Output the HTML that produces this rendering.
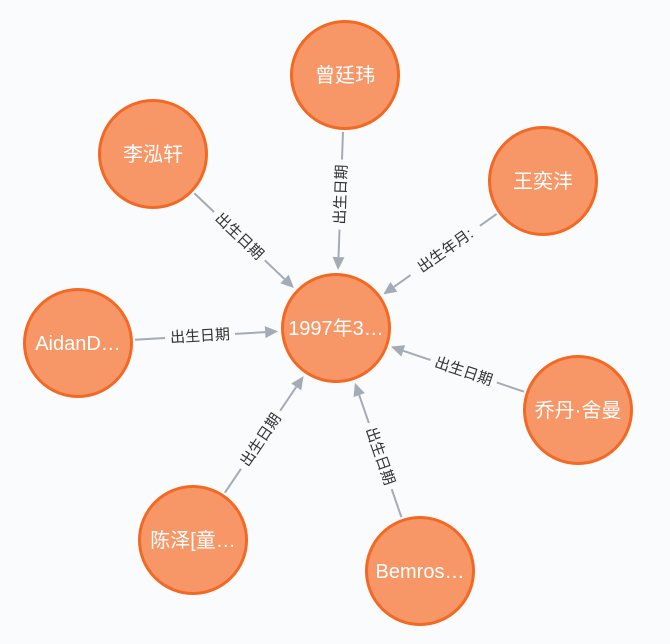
<!DOCTYPE html>
<html><head><meta charset="utf-8"><style>
html,body{margin:0;padding:0;background:#fafbfc;}
svg{display:block;font-family:"Liberation Sans","Noto Sans CJK SC",sans-serif;}
</style></head><body>
<svg id="s" width="670" height="644" xmlns="http://www.w3.org/2000/svg"></svg>
<script>
var nodes={c:[336,328,'1997年3…'],a:[345,75,'曾廷玮'],b:[153,154,'李泓轩'],w:[543,181,'王奕沣'],d:[78,343,'AidanD…'],q:[578,410,'乔丹·舍曼'],z:[193,540,'陈泽[童…'],m:[420,571,'Bemros…']};
var edges=[['a','出生日期'],['b','出生日期'],['w','出生年月:'],['d','出生日期'],['q','出生日期'],['z','出生日期'],['m','出生日期']];
var R=55,h='',bg='#fafbfc';
edges.forEach(function(e){
 var s=nodes[e[0]],t=nodes.c;
 var dx=t[0]-s[0],dy=t[1]-s[1],L=Math.sqrt(dx*dx+dy*dy),ux=dx/L,uy=dy/L;
 var x1=s[0]+ux*(R+2),y1=s[1]+uy*(R+2),x2=t[0]-ux*(R+3),y2=t[1]-uy*(R+3);
 var bx=x2-ux*13,by=y2-uy*13,px=-uy,py=ux;
 h+='<line x1="'+x1+'" y1="'+y1+'" x2="'+bx+'" y2="'+by+'" stroke="#a5abb6" stroke-width="2"/>';
 h+='<polygon points="'+x2+','+y2+' '+(bx+px*6)+','+(by+py*6)+' '+(bx-px*6)+','+(by-py*6)+'" fill="#a5abb6"/>';
 var mx=(x1+bx)/2,my=(y1+by)/2,ang=Math.atan2(dy,dx)*180/Math.PI;
 if(ang>90)ang-=180;if(ang<-90)ang+=180;
 var w=e[1].length*15+10;
 h+='<g transform="translate('+mx+','+my+') rotate('+ang+')"><rect x="'+(-w/2)+'" y="-10" width="'+w+'" height="20" fill="'+bg+'"/><text x="0" y="5" text-anchor="middle" font-size="15" fill="#333">'+e[1]+'</text></g>';
});
for(var k in nodes){var n=nodes[k];
 h+='<circle cx="'+n[0]+'" cy="'+n[1]+'" r="'+(R-1.5)+'" fill="#f79767" stroke="#f36924" stroke-width="3"/>';
 h+='<text x="'+n[0]+'" y="'+(n[1]+7)+'" text-anchor="middle" font-size="20" fill="#fff">'+n[2]+'</text>';
}
document.getElementById('s').innerHTML=h;
</script>
</body></html>
